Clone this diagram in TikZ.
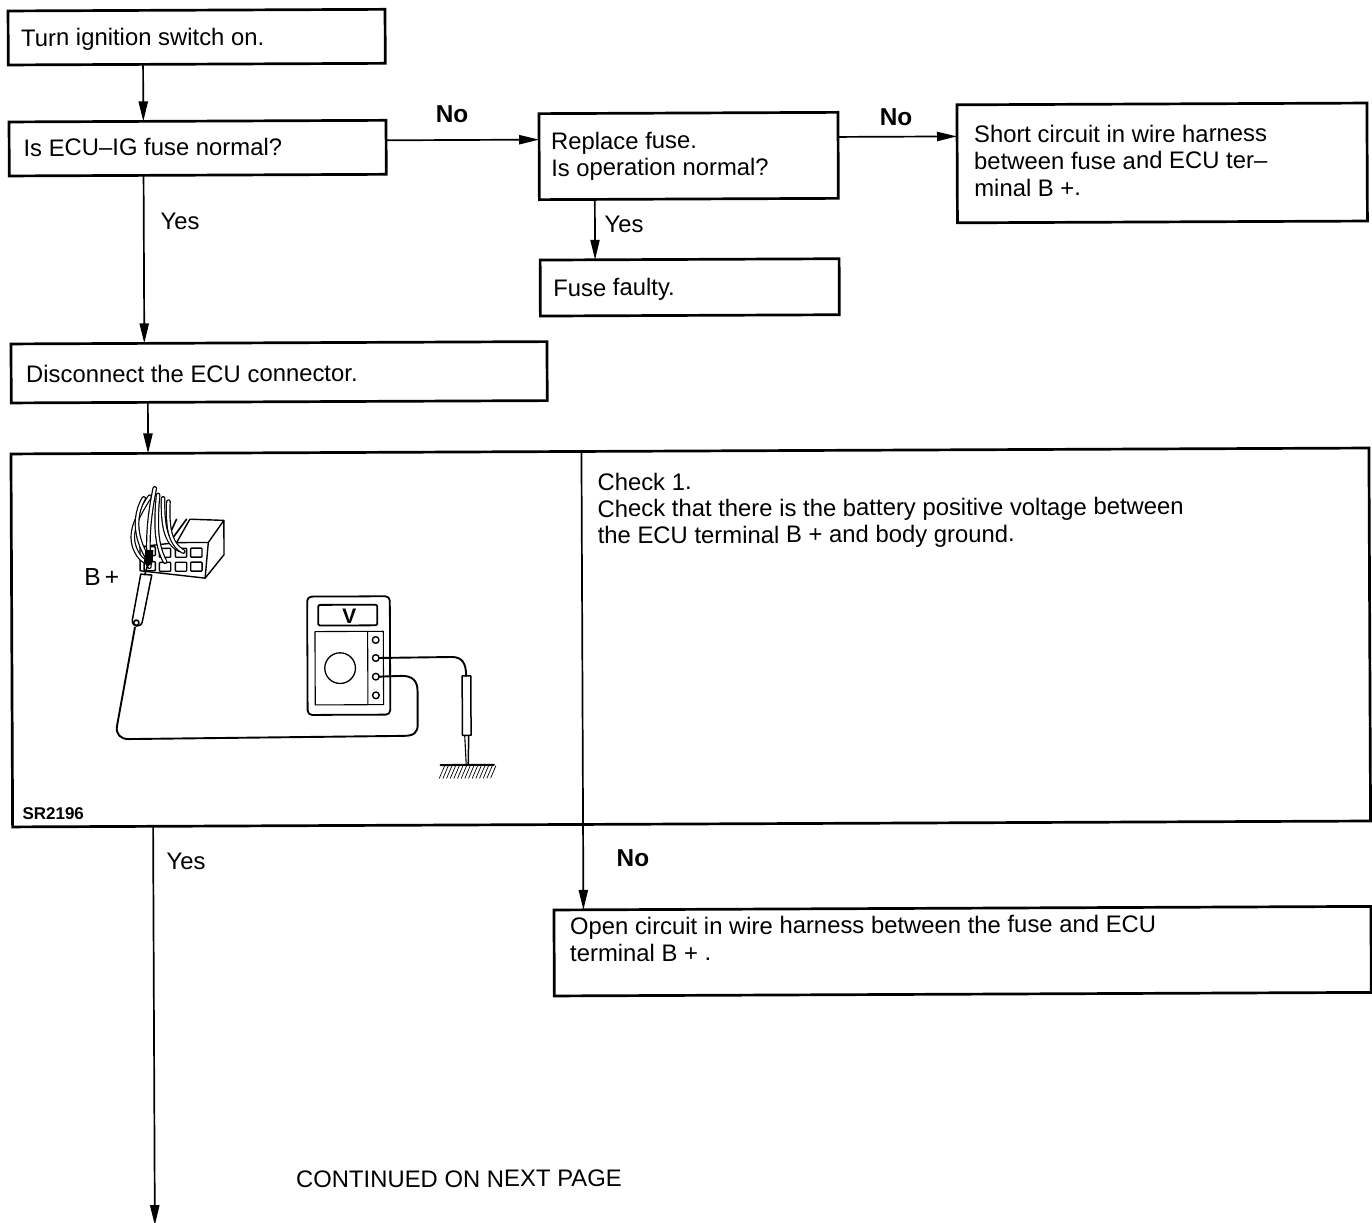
\documentclass[tikz,border=0pt]{standalone}
\usepackage{fontspec}
\setmainfont{Liberation Sans}
\usetikzlibrary{arrows.meta}
\tikzset{
  flowbox/.style={draw=black,line width=1.35pt,anchor=north west,align=flush left,inner ysep=0pt,outer sep=0pt,
    font=\fontsize{11.93}{13.35}\selectfont},
  flowarrow/.style={draw=black,line width=.85pt,-{Triangle[length=10pt,width=4.6pt]}},
  lab/.style={font=\fontsize{11.93}{13.35}\selectfont,inner sep=0pt},
  nolab/.style={font=\bfseries\fontsize{12.2}{14}\selectfont,inner sep=0pt,text=black},
  art/.style={line width=.55pt,line join=round,line cap=round},
  heavyart/.style={line width=.9pt,line join=round,line cap=round},
  wire/.style={line width=.95pt,line join=round,line cap=round},
  cable/.style={draw=black,double=white,line width=.6pt,double distance=1.15pt,line cap=round},
}
\begin{document}
\begin{tikzpicture}[x=.5pt,y=-.5pt]
\useasboundingbox (0,0) rectangle (1372,1222);
\begin{scope}[rotate=0.25,every node/.append style={transform shape}]
% boxes
\node[flowbox,minimum height=27pt,text width=175.5pt,inner xsep=6.5pt] (a) at (8,11) {\rule{0pt}{10.7pt}Turn ignition switch on.};
\node[flowbox,minimum height=27pt,text width=174.1pt,inner xsep=7.2pt] (b) at (8.5,122) {Is ECU–IG fuse normal?\rule[-1.4pt]{0pt}{1.4pt}};
\node[flowbox,minimum height=43pt,text width=137.5pt,inner xsep=6pt] (c) at (538.5,116) {Replace fuse.\\Is operation normal?};
\node[flowbox,minimum height=59pt,text width=188pt,inner xsep=8.5pt] (d) at (956.5,109) {Short circuit in wire harness\\between fuse and ECU ter–\\minal B +.\rule[-2.7pt]{0pt}{2.7pt}};
\node[flowbox,minimum height=28pt,text width=136.5pt,inner xsep=6.5pt] (e) at (539,262.4) {\rule{0pt}{10.7pt}Fuse faulty.};
\node[flowbox,minimum height=29.5pt,text width=253pt,inner xsep=7.5pt] (f) at (9.5,344) {\rule{0pt}{9.7pt}Disconnect the ECU connector.};
\node[flowbox,minimum height=186.5pt,minimum width=679pt,inner sep=0pt] (g) at (9,454) {};
\node[flowbox,minimum height=43pt,text width=392.5pt,inner xsep=8pt] (h) at (550,912.4) {Open circuit in wire harness between the fuse and ECU\\terminal B + .\\\mbox{}\par\vspace{2.2pt}};
% text in large box
\node[lab,anchor=north west,align=left] (checktext) at (595,475.3) {Check 1.\\Check that there is the battery positive voltage between\\the ECU terminal B + and body ground.};
% connectors
\coordinate (endpt) at (149.5,1226);
\draw[flowarrow] ([xshift=67.4pt]a.south west) -- ([xshift=67.15pt]b.north west);
\draw[flowarrow] ([yshift=-10pt]b.north east) -- ([yshift=-13pt]c.north west);
\draw[flowarrow] ([yshift=-12.3pt]c.north east) -- ([yshift=-15.8pt]d.north west);
\draw[flowarrow] ([xshift=27.75pt]c.south west) -- ([xshift=27.5pt]e.north west);
\draw[flowarrow] ([xshift=67.15pt]b.south west) -- ([xshift=66.65pt]f.north west);
\draw[flowarrow] ([xshift=68.3pt]f.south west) -- ([xshift=68.55pt]g.north west);
\draw[flowarrow] ([xshift=285.25pt]g.north west) -- ([xshift=14.75pt]h.north west);
\draw[flowarrow] ([xshift=70.25pt]g.south west) -- (endpt);
% labels
\node[nolab] (no1) at (451.5,116) {No};
\node[nolab] (no2) at (895.5,121) {No};
\node[nolab] (no3) at (629.2,860.8) {No};
\node[lab] (yes1) at (179,221.8) {Yes};
\node[lab] (yes2) at (623,226.7) {Yes};
\node[lab] (yes3) at (182.2,861.8) {Yes};
\node[lab] (cont) at (453.8,1181) {CONTINUED ON NEXT PAGE};
% illustration: meter, lead, ground
\begin{scope}[shift={(17.2,461.3)},x=.16667pt,y=-.16667pt]
  \node[font=\bfseries\fontsize{8.5}{9}\selectfont,inner sep=0pt,anchor=west] (code) at (4,1058) {SR2196};
  \node[font=\fontsize{12.3}{13}\selectfont,inner sep=0pt] (bplus) at (246,348) {B\,+};
  \draw[heavyart,rounded corners=2.2pt] (862,410) rectangle (1110,765);
  \draw[heavyart,rounded corners=.7pt] (895,435) rectangle (1072,497);
  \node[font=\bfseries\fontsize{10.5}{11}\selectfont,inner sep=0pt] (vlab) at (988,470) {V};
  \draw[art] (885,515) rectangle (1090,735);
  \draw[art] (1043,515) -- (1043,735);
  \draw[art,line width=.65pt] (960,625) circle[radius=46];
  \foreach \yy in {541,595,651,707} \draw[art,line width=.7pt] (1067,\yy) circle[radius=10];
  % right lead and probe
  \draw[wire] (1077,595) -- (1295,593) .. controls (1325,593) and (1338,610) .. (1338,650);
  \draw[art,line width=.75pt] (1326,650) rectangle (1352,828);
  \draw[art] (1333,830) -- (1337,915);
  \draw[art,line width=.75pt] (1345,830) -- (1343,915);
  \draw[art,line width=1pt] (1260,917) -- (1420,917);
  \foreach \xx in {1272,1283,...,1426} \draw[art,line width=.35pt] (\xx,920) -- (\xx-16,957);
  % left lead
  \draw[wire] (1077,651) -- (1145,649) .. controls (1178,649) and (1192,665) .. (1192,695)
     -- (1192,795) .. controls (1192,820) and (1180,829) .. (1150,829)
     -- (325,835) .. controls (300,835) and (285,820) .. (290,795) -- (345,500);
\end{scope}
% illustration: connector
\begin{scope}[shift={(67.6,480.7)},x=.16667pt,y=-.16667pt]
  \draw[art,line width=.7pt,fill=white] (360,118) -- (462,122) -- (462,225) -- (405,295) -- (210,272) -- (210,200) -- (320,188) -- cycle;
  \draw[art,line width=.7pt] (320,188) -- (415,188) -- (462,122);
  \draw[art,line width=.7pt] (415,188) -- (405,295);
  \foreach \cx/\cy in {362/205,362/247,316/205,316/247,268/205,268/247,222/200,222/245}
    \draw[art,line width=.7pt,rounded corners=.4pt] (\cx,\cy) rectangle ++(34,27);
  \draw[art,line width=.8pt] (320,118) -- (305,150);
  \draw[art,line width=.8pt] (350,118) -- (310,172);
  % cables
  \draw[cable] (240,50) .. controls (195,120) and (170,170) .. (205,225) .. controls (215,240) and (225,245) .. (240,250);
  \draw[cable] (222,55) .. controls (190,110) and (195,180) .. (240,245);
  \draw[cable] (255,25) .. controls (240,100) and (230,170) .. (238,260);
  \draw[cable] (265,45) .. controls (258,120) and (255,190) .. (285,245);
  \draw[cable] (280,55) .. controls (278,130) and (285,190) .. (330,210);
  \draw[cable] (296,65) .. controls (293,130) and (295,190) .. (340,215);
  \fill (226,210) -- (250,210) -- (248,245) -- (232,262) -- (222,245) -- cycle;
  % probe
  \draw[heavyart,line width=.75pt,fill=white] (212,282) -- (186,420) .. controls (184,442) and (212,444) .. (216,425) -- (245,285) -- cycle;
  \draw[art,line width=.8pt] (198,428) circle[radius=8];
  \draw[art,line width=.8pt] (233,255) -- (224,284);
\end{scope}
\end{scope}
\end{tikzpicture}
\end{document}
